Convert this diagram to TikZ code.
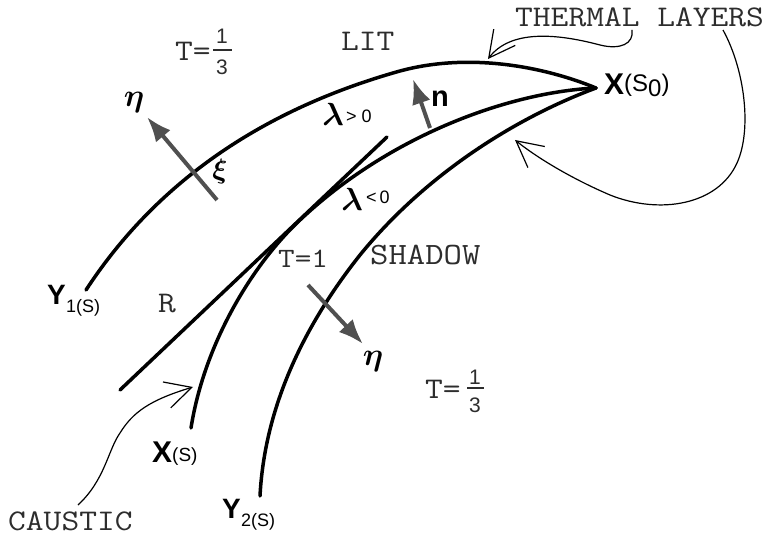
\RequirePackage{fix-cm}
\documentclass[tikz,border=0pt]{standalone}
\usepackage{fontspec}
\usepackage{bm}
\usetikzlibrary{arrows.meta}
\newfontfamily\monof[FakeStretch=1.15]{Latin Modern Mono}
\newfontfamily\sansf{Liberation Sans}
\newcommand\fsz[1]{\fontsize{#1}{#1}\selectfont}
\definecolor{arrgray}{RGB}{80,80,80}
\definecolor{txtgray}{RGB}{45,45,45}
\tikzset{
  curve/.style={line width=3.5pt, line cap=round},
  garrow/.style={draw=arrgray, line width=4pt, -{Latex[length=25pt,width=19pt]}},
  thinarrow/.style={line width=1.2pt, -{Straight Barb[length=26pt,width=27pt]}},
  lab/.style={inner sep=0pt, anchor=base west},
  mono/.style={font=\monof\fsz{30}, text=txtgray},
  digit/.style={inner sep=0pt, font=\sansf\fsz{21}, text=txtgray},
  greek/.style={inner sep=0pt, font=\fsz{32}},
  small/.style={inner sep=0pt, font=\sansf\fsz{18}},
  bsans/.style={font=\sansf\bfseries\fsz{30}},
  fracbar/.style={line width=1.3pt, draw=txtgray}
}
\begin{document}
\begin{tikzpicture}[x=1pt,y=-1pt]
\useasboundingbox (0,0) rectangle (774,537);
% main curves
\coordinate (cusp) at (596,88);
\coordinate (y1end) at (86,290);
\coordinate (xsend) at (191,428);
\coordinate (y2end) at (260,496);
\coordinate (rtop) at (387,137);
\coordinate (rbot) at (120,390);
\draw[curve] (y1end) .. controls (150,192) and (250,113) .. (400,71) .. controls (470,52) and (545,67) .. (cusp);
\draw[curve] (cusp) .. controls (510,92) and (390,135) .. (300,220) .. controls (255,262) and (205,340) .. (xsend);
\draw[curve] (cusp) .. controls (515,118) and (425,175) .. (360,255) .. controls (310,318) and (265,400) .. (y2end);
\draw[curve] (rtop) -- (rbot);
% gray arrows
\coordinate (e1s) at (217,200); \coordinate (e1t) at (147,117);
\coordinate (ns) at (430,128); \coordinate (nt) at (413,79);
\coordinate (e2s) at (308,285); \coordinate (e2t) at (363,344);
\draw[garrow] (e1s) -- (e1t);
\draw[garrow] (ns) -- (nt);
\draw[garrow] (e2s) -- (e2t);
% labels
\node[lab, mono] (thermal) at (515,27) {THERMAL LAYERS};
\node[lab, mono] (lit) at (341,51) {LIT};
\node[lab, mono] (tA) at (175,61) {T=};
\node[digit] (tAn) at (222,36) {1};
\node[digit] (tAd) at (222,67) {3};
\draw[fracbar] (213,50) -- (232,50);
\node[lab, mono] (tB) at (425,398) {T=};
\node[digit] (tBn) at (475,377) {1};
\node[digit] (tBd) at (475,405) {3};
\draw[fracbar] (467,388) -- (484,388);
\node[lab, mono, font=\monof\fsz{28}] (tone) at (278,268) {T=1};
\node[lab, mono, font=\monof\fsz{31}] (shadow) at (370,265) {SHADOW};
\node[lab, mono] (R) at (158,313) {R};
\node[lab, mono] (caustic) at (8,530) {CAUSTIC};
\node[greek] (eta1) at (134,103) {$\bm\eta$};
\node[greek, font=\fsz{28}] (xi) at (220,172) {$\bm\xi$};
\node[greek] (eta2) at (373,362) {$\bm\eta$};
\node[greek] (lamA) at (333,114) {$\bm\lambda$};
\node[small] (gtA) at (359,116) {> 0};
\node[greek] (lamB) at (352,199) {$\bm\lambda$};
\node[small] (ltB) at (378,197) {<\,0};
\node[lab, font=\sansf\bfseries\fsz{29}] (nlab) at (431,107) {n};
\node[lab, bsans] (X0) at (604,95) {X};
\node[lab, font=\sansf\fsz{24}] (S0) at (624,92) {(S\raisebox{-5pt}{0})};
\node[lab, font=\sansf\bfseries\fsz{28}] (Y1) at (47,305) {Y};
\node[lab, font=\sansf\fsz{18}] (Y1s) at (66,313) {1(S)};
\node[lab, bsans] (XS) at (152,462) {X};
\node[lab, font=\sansf\fsz{19}] (XSs) at (172,461) {(S)};
\node[lab, font=\sansf\bfseries\fsz{28}] (Y2) at (222,518) {Y};
\node[lab, font=\sansf\fsz{18}] (Y2s) at (241,526) {2(S)};
% thin arrows
\coordinate (th1) at (632,30); \coordinate (th1tip) at (488,59);
\coordinate (th2) at (723,30); \coordinate (th2tip) at (515,140);
\coordinate (ca) at (78,505); \coordinate (catip) at (193,387);
\draw[thinarrow] (th1) .. controls (634,44) and (620,50) .. (600,45) .. controls (555,33) and (510,30) .. (th1tip);
\draw[thinarrow] (th2) .. controls (745,70) and (752,130) .. (737,163) .. controls (718,205) and (660,215) .. (610,195) .. controls (575,180) and (540,160) .. (th2tip);
\draw[thinarrow] (ca) .. controls (105,480) and (108,450) .. (120,433) .. controls (133,412) and (150,400) .. (catip);
\end{tikzpicture}
\end{document}
